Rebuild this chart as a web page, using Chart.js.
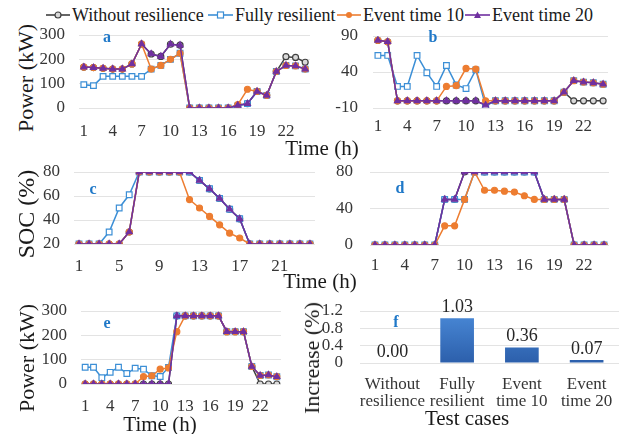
<!DOCTYPE html>
<html>
<head>
<meta charset="utf-8">
<script src="https://cdn.jsdelivr.net/npm/chart.js@4.4.1/dist/chart.umd.min.js"></script>
<style>
  body { margin: 0; background: #fff; }
  #fig { position: relative; width: 624px; height: 434px; overflow: hidden;
         font-family: "Liberation Serif", "Times New Roman", serif; color: #1a1a1a; }
  #fig canvas { position: absolute; }
  .t { position: absolute; white-space: nowrap; transform: translate(-50%, -50%); font-size: 21px; }
  .ty { transform: translate(-50%, -50%) rotate(-90deg); font-size: 22px; }
  .lab { position: absolute; font-weight: bold; color: #1f78c8; font-size: 16px; transform: translate(-50%, -50%); }
  .leg { position: absolute; top: 4px; height: 22px; display: flex; align-items: center;
         font-family: "Liberation Serif", serif; font-size: 18px; white-space: nowrap; }
  .leg svg { margin-right: 2px; }
</style>
</head>
<body>
<div id="fig">
  <!-- legend -->
  <div class="leg" style="left:46px">
    <svg width="24" height="10"><line x1="0" y1="5" x2="24" y2="5" stroke="#404040" stroke-width="1.6"/><circle cx="12" cy="5" r="3" fill="#d9d9d9" stroke="#404040" stroke-width="1.2"/></svg>Without resilience</div>
  <div class="leg" style="left:208px">
    <svg width="25" height="10"><line x1="0" y1="5" x2="25" y2="5" stroke="#3c8fd6" stroke-width="1.6"/><rect x="9.5" y="2" width="6" height="6" fill="#fff" stroke="#3c8fd6" stroke-width="1.2"/></svg>Fully resilient</div>
  <div class="leg" style="left:337px">
    <svg width="24" height="10"><line x1="0" y1="5" x2="24" y2="5" stroke="#ed7d31" stroke-width="1.6"/><circle cx="12" cy="5" r="3" fill="#ed7d31"/></svg>Event time 10</div>
  <div class="leg" style="left:465px">
    <svg width="25" height="10"><line x1="0" y1="5" x2="25" y2="5" stroke="#7030a0" stroke-width="1.6"/><path d="M12.5 1.5 L16 8 L9 8 Z" fill="#7030a0"/></svg>Event time 20</div>

  <canvas id="ca"></canvas>
  <canvas id="cb"></canvas>
  <canvas id="cc"></canvas>
  <canvas id="cd"></canvas>
  <canvas id="ce"></canvas>
  <canvas id="cf"></canvas>

  <!-- axis titles -->
  <div class="t ty" style="left:26px;top:78px">Power (kW)</div>
  <div class="t ty" style="left:26px;top:214px;font-size:24px">SOC (%)</div>
  <div class="t ty" style="left:27px;top:358px">Power (kW)</div>
  <div class="t ty" style="left:312px;top:358px">Increase (%)</div>
  <div class="t" style="left:322px;top:148px">Time (h)</div>
  <div class="t" style="left:320px;top:281px">Time (h)</div>
  <div class="t" style="left:160px;top:424px">Time (h)</div>
  <div class="t" style="left:467px;top:418px">Test cases</div>

  <!-- panel letters -->
  <div class="lab" style="left:107px;top:37px">a</div>
  <div class="lab" style="left:433px;top:37px">b</div>
  <div class="lab" style="left:93px;top:189px">c</div>
  <div class="lab" style="left:400px;top:188px">d</div>
  <div class="lab" style="left:107px;top:323px">e</div>
  <div class="lab" style="left:396px;top:322px">f</div>
</div>

<script>
const HOURS = ["1","2","3","4","5","6","7","8","9","10","11","12",
               "13","14","15","16","17","18","19","20","21","22","23","24"];

// a: power (kW)
const A_WITHOUT = [168,166,163,160,160,181,263,222,212,262,258,0,0,0,0,0,11,18,68,52,150,211,208,188];
const A_FULL    = [96,92,130,130,130,130,130,160,175,200,225,0,0,0,0,0,8,18,68,52,150,175,173,160];
const A_EV10    = [168,166,163,160,160,181,263,160,175,200,225,0,0,0,0,0,14,77,68,52,150,175,173,160];
const A_EV20    = [168,166,163,160,160,181,263,222,212,262,258,0,0,0,0,0,11,18,68,52,150,175,173,160];

// b
const B_WITHOUT = [84,82,0,0,0,0,0,0,0,0,0,-6,0,0,0,0,0,0,0,12,0,0,0,0];
const B_FULL    = [63,63,20,20,63,39,20,49,22,17,43,-7,0,0,0,0,0,0,0,12,28,26,25,23];
const B_EV10    = [84,82,0,0,0,0,0,20,21,45,44,0,0,0,0,0,0,0,0,12,28,26,25,23];
const B_EV20    = [84,82,0,0,0,0,0,0,0,0,0,-6,0,0,0,0,0,0,0,12,28,26,25,23];

// c: SOC (%)
const C_WITHOUT = [20,20,20,20,20,30,80,80,80,80,80,80,73,66,58,49,41,20,20,20,20,20,20,20];
const C_FULL    = [20,20,20,30,50,61,80,80,80,80,80,80,73,66,58,49,41,20,20,20,20,20,20,20];
const C_EV10    = [20,20,20,20,20,30,80,80,80,80,80,57,50,43,36,29,25,20,20,20,20,20,20,20];
const C_EV20    = [20,20,20,20,20,30,80,80,80,80,80,80,73,66,58,49,41,20,20,20,20,20,20,20];

// d
const D_WITHOUT = [0,0,0,0,0,0,0,50,50,80,80,80,80,80,80,80,80,50,50,50,0,0,0,0];
const D_FULL    = [0,0,0,0,0,0,0,50,50,50,80,80,80,80,80,80,80,50,50,50,0,0,0,0];
const D_EV10    = [0,0,0,0,0,0,0,21,21,50,80,60,60,59,58,54,50,50,50,50,0,0,0,0];
const D_EV20    = [0,0,0,0,0,0,0,50,50,80,80,80,80,80,80,80,80,50,50,50,0,0,0,0];

// e: power (kW)
const E_WITHOUT = [0,0,0,0,0,0,0,0,0,0,0,280,280,280,280,280,280,215,215,215,72,0,0,0];
const E_FULL    = [69,69,26,48,69,43,65,61,34,31,68,280,280,280,280,280,280,215,215,215,72,35,37,30];
const E_EV10    = [0,0,0,0,0,0,0,30,34,61,66,215,280,280,280,280,280,215,215,215,72,35,37,30];
const E_EV20    = [0,0,0,0,0,0,0,0,0,0,0,280,280,280,280,280,280,215,215,215,72,35,37,30];

// f: increase (%)
const F_CASES  = [["Without", "resilience"], ["Fully", "resilient"], ["Event", "time 10"], ["Event", "time 20"]];
const F_VALUES = [0.00, 1.03, 0.36, 0.07];

const FONT = '"Liberation Serif", "Times New Roman", serif';
Chart.defaults.font.family = FONT;
Chart.defaults.font.size = 17;
Chart.defaults.color = "#363636";

const STYLE = [
  { label: "Without resilience", color: "#404040", shape: "circle",   fill: "#d9d9d9", r: 3,   order: 4 },
  { label: "Fully resilient",    color: "#3c8fd6", shape: "rect",     fill: "#ffffff", r: 4,   order: 3 },
  { label: "Event time 10",      color: "#ed7d31", shape: "circle",   fill: "#ed7d31", r: 3,   order: 2 },
  { label: "Event time 20",      color: "#7030a0", shape: "triangle", fill: "#7030a0", r: 3.5, order: 1 },
];

// size and place a canvas so that its plot area lands on the wanted box
function place(id, box, wy, hx, topPad, rightPad) {
  const el = document.getElementById(id);
  el.width = Math.round(box.r - box.l + wy + rightPad);
  el.height = Math.round(box.b - box.t + topPad + hx);
  el.style.left = Math.round(box.l - wy) + "px";
  el.style.top = Math.round(box.t - topPad) + "px";
  return el;
}

function makeLine(id, box, series, y, every, pad) {
  const topPad = pad.y + 12;
  const rightPad = pad.x + 8;
  const el = place(id, box, 40, 40, topPad, rightPad);
  return new Chart(el, {
    type: "line",
    data: {
      labels: HOURS,
      datasets: series.map((vals, k) => ({
        label: STYLE[k].label,
        data: vals,
        borderColor: STYLE[k].color,
        backgroundColor: STYLE[k].fill,
        pointBackgroundColor: STYLE[k].fill,
        pointBorderColor: STYLE[k].color,
        pointStyle: STYLE[k].shape,
        pointRadius: STYLE[k].r,
        pointBorderWidth: 1.2,
        borderWidth: 1.5,
        tension: 0,
        order: STYLE[k].order,
      })),
    },
    options: {
      responsive: false,
      animation: false,
      layout: { autoPadding: false, padding: { top: topPad, right: rightPad, left: 0, bottom: 0 } },
      plugins: { legend: { display: false }, tooltip: { enabled: false } },
      scales: {
        x: {
          offset: true,
          grid: { display: false, drawTicks: false },
          border: { display: false },
          ticks: {
            autoSkip: false, maxRotation: 0, padding: pad.x,
            callback: (v, i) => (i % every === 0 ? HOURS[i] : ""),
          },
          afterFit: (s) => { s.height = 40; },
        },
        y: {
          min: y.min, max: y.max,
          grid: { color: "#e3e3e3", drawTicks: false },
          border: { display: false },
          ticks: { stepSize: y.step, padding: pad.y, autoSkip: false },
          afterFit: (s) => { s.width = 40; },
        },
      },
    },
  });
}

makeLine("ca", { l: 79, r: 310, t: 35, b: 108 }, [A_WITHOUT, A_FULL, A_EV10, A_EV20], { min: 0, max: 300, step: 100 }, 3, { x: 13, y: 14 });
makeLine("cb", { l: 373, r: 608, t: 36, b: 108 }, [B_WITHOUT, B_FULL, B_EV10, B_EV20], { min: -10, max: 90, step: 50 }, 3, { x: 8, y: 15 });
makeLine("cc", { l: 74, r: 315, t: 172, b: 244 }, [C_WITHOUT, C_FULL, C_EV10, C_EV20], { min: 20, max: 80, step: 20 }, 4, { x: 12, y: 14 });
makeLine("cd", { l: 370, r: 609, t: 172, b: 245 }, [D_WITHOUT, D_FULL, D_EV10, D_EV20], { min: 0, max: 80, step: 40 }, 3, { x: 10, y: 17 });
makeLine("ce", { l: 81, r: 281, t: 311, b: 384 }, [E_WITHOUT, E_FULL, E_EV10, E_EV20], { min: 0, max: 300, step: 100 }, 3, { x: 12, y: 14 });

// value labels above the bars
const barLabels = {
  id: "barLabels",
  afterDatasetsDraw(chart) {
    const ctx = chart.ctx;
    const meta = chart.getDatasetMeta(0);
    ctx.save();
    ctx.font = "18px " + FONT;
    ctx.fillStyle = "#262626";
    ctx.textAlign = "center";
    ctx.textBaseline = "bottom";
    meta.data.forEach((bar, i) => {
      ctx.fillText(F_VALUES[i].toFixed(2), bar.x, bar.y - 2);
    });
    ctx.restore();
  },
};

const fEl = place("cf", { l: 360, r: 619, t: 311, b: 363 }, 45, 60, 30, 20);
new Chart(fEl, {
  type: "bar",
  data: {
    labels: F_CASES,
    datasets: [{
      data: F_VALUES,
      barPercentage: 0.52,
      categoryPercentage: 1,
      backgroundColor: (c) => {
        const area = c.chart.chartArea;
        if (!area) return "#2f6fc0";
        const g = c.chart.ctx.createLinearGradient(0, area.top, 0, area.bottom);
        g.addColorStop(0, "#4a8ad8");
        g.addColorStop(1, "#2c5fab");
        return g;
      },
    }],
  },
  options: {
    responsive: false,
    animation: false,
    layout: { autoPadding: false, padding: { top: 30, right: 20, left: 0, bottom: 0 } },
    plugins: { legend: { display: false }, tooltip: { enabled: false } },
    scales: {
      x: {
        grid: { display: false, drawTicks: false },
        border: { display: false },
        ticks: { autoSkip: false, maxRotation: 0, padding: 13, font: { lineHeight: 1 } },
        afterFit: (s) => { s.height = 60; },
      },
      y: {
        min: 0, max: 1.2,
        grid: { color: "#e3e3e3", drawTicks: false },
        border: { display: false },
        ticks: { stepSize: 0.4, padding: 17, autoSkip: false },
        afterFit: (s) => { s.width = 45; },
      },
    },
  },
  plugins: [barLabels],
});
</script>
</body>
</html>
